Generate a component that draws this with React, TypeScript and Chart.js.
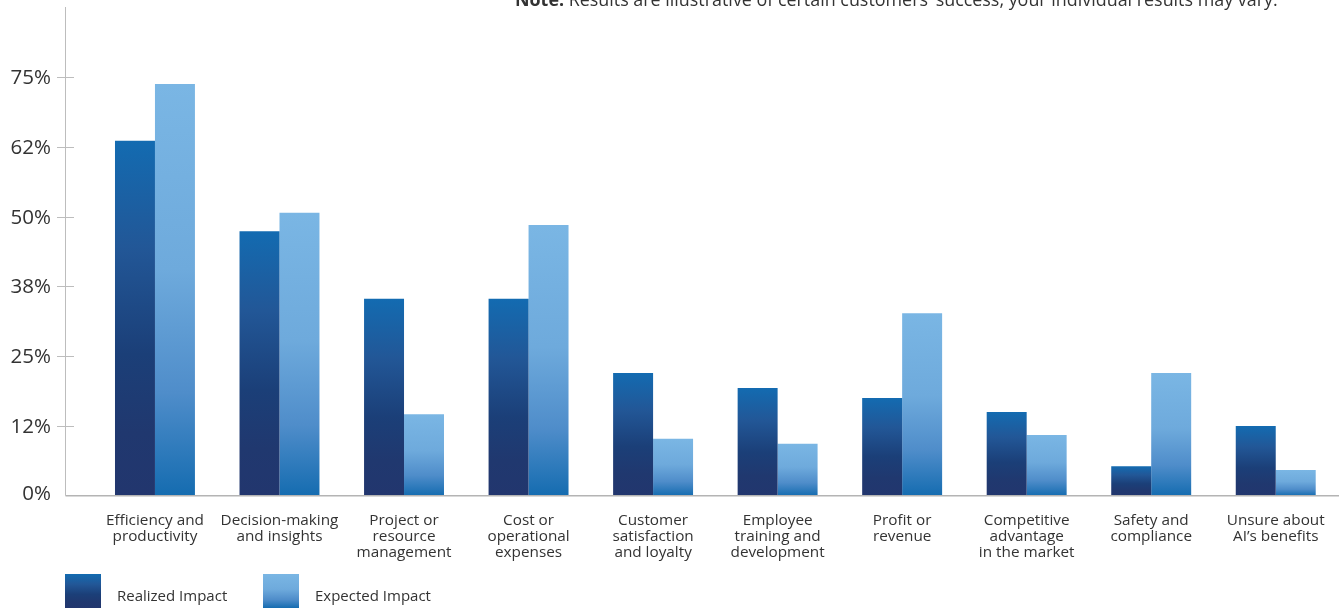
import React, { useEffect, useRef } from "react";
import { Chart, registerables } from "chart.js";

Chart.register(...registerables);

const categories: string[][] = [
  ["Efficiency and", "productivity"],
  ["Decision-making", "and insights"],
  ["Project or", "resource", "management"],
  ["Cost or", "operational", "expenses"],
  ["Customer", "satisfaction", "and loyalty"],
  ["Employee", "training and", "development"],
  ["Profit or", "revenue"],
  ["Competitive", "advantage", "in the market"],
  ["Safety and", "compliance"],
  ["Unsure about", "AI\u2019s benefits"],
];

const realizedImpact = [63.6, 47.4, 35.3, 35.3, 22.0, 19.3, 17.5, 15.0, 5.3, 12.5];
const expectedImpact = [73.8, 50.7, 14.6, 48.5, 10.2, 9.3, 32.7, 10.9, 22.0, 4.6];

const yTickValues = [0, 12.5, 25, 37.5, 50, 62.5, 75];
const yTickLabels = ["0%", "12%", "25%", "38%", "50%", "62%", "75%"];

const seriesNames = ["Realized Impact", "Expected Impact"];
const noteBold = "Note:";
const noteText = " Results are illustrative of certain customers\u2019 success, your individual results may vary.";

const FONT = "'Open Sans', Lato, sans-serif";

const realizedStops: [number, string][] = [
  [0, "#136bb1"],
  [0.3, "#225797"],
  [0.6, "#1b3f78"],
  [0.82, "#20386f"],
  [1, "#22366e"],
];
const expectedStops: [number, string][] = [
  [0, "#7ab6e4"],
  [0.45, "#6eaadc"],
  [0.75, "#4f8dca"],
  [1, "#156cb0"],
];

function makeGradient(ctx: CanvasRenderingContext2D, top: number, bottom: number, stops: [number, string][]) {
  const g = ctx.createLinearGradient(0, top, 0, bottom);
  stops.forEach(([o, c]) => g.addColorStop(o, c));
  return g;
}

function barBg(stops: [number, string][]) {
  return (c: any) => {
    const chart = c.chart;
    const y = chart.scales && chart.scales.y;
    if (!y || !chart.chartArea || c.raw == null) return stops[0][1];
    const top = y.getPixelForValue(c.raw);
    const bottom = y.getPixelForValue(0);
    if (!isFinite(top) || !isFinite(bottom) || bottom - top < 1) return stops[0][1];
    return makeGradient(chart.ctx, top, bottom, stops);
  };
}

const decorPlugin = {
  id: "decor",
  afterDatasetsDraw(chart: any) {
    const ctx: CanvasRenderingContext2D = chart.ctx;
    const y = chart.scales.y;
    const x0 = 65.5;
    const base = y.getPixelForValue(0);
    ctx.save();
    ctx.strokeStyle = "#b4b4b4";
    ctx.lineWidth = 1.5;
    ctx.beginPath();
    ctx.moveTo(x0, base);
    ctx.lineTo(1339, base);
    ctx.stroke();
    ctx.restore();
  },
  afterDraw(chart: any) {
    const ctx: CanvasRenderingContext2D = chart.ctx;
    const y = chart.scales.y;
    const x0 = 65.5;
    const base = y.getPixelForValue(0);
    ctx.save();
    ctx.strokeStyle = "#bdbdbd";
    ctx.lineWidth = 1;
    ctx.beginPath();
    ctx.moveTo(x0, 7);
    ctx.lineTo(x0, base);
    ctx.stroke();
    ctx.font = `20.5px ${FONT}`;
    ctx.fillStyle = "#333333";
    ctx.textAlign = "right";
    ctx.textBaseline = "middle";
    yTickValues.forEach((v, i) => {
      const py = Math.round(y.getPixelForValue(v)) + 0.5;
      if (i > 0) {
        ctx.beginPath();
        ctx.moveTo(57, py);
        ctx.lineTo(74, py);
        ctx.stroke();
      }
      ctx.fillText(yTickLabels[i], 51, py + (i === 0 ? -2 : 1));
    });

    ctx.textAlign = "left";
    ctx.textBaseline = "alphabetic";
    ctx.fillStyle = "#333333";
    ctx.font = `bold 17.9px ${FONT}`;
    const bx = 515;
    ctx.fillText(noteBold, bx, 6);
    const w = ctx.measureText(noteBold).width;
    ctx.font = `17.9px ${FONT}`;
    ctx.fillText(noteText, bx + w, 6);

    const legendBoxes = [
      { x: 65, stops: realizedStops },
      { x: 263, stops: expectedStops },
    ];
    legendBoxes.forEach((b, i) => {
      ctx.fillStyle = makeGradient(ctx, 574, 608, b.stops);
      ctx.fillRect(b.x, 574, 36, 36);
      ctx.fillStyle = "#333333";
      ctx.font = `15px ${FONT}`;
      ctx.textBaseline = "middle";
      ctx.fillText(seriesNames[i], b.x + 52, 597);
    });
    ctx.restore();
  },
};

export default function App() {
  const ref = useRef<HTMLCanvasElement | null>(null);
  useEffect(() => {
    if (!ref.current) return;
    const chart = new Chart(ref.current, {
      type: "bar",
      data: {
        labels: categories as any,
        datasets: [
          {
            label: seriesNames[0],
            data: realizedImpact,
            backgroundColor: barBg(realizedStops) as any,
            borderWidth: 0,
          },
          {
            label: seriesNames[1],
            data: expectedImpact,
            backgroundColor: barBg(expectedStops) as any,
            borderWidth: 0,
          },
        ],
      },
      options: {
        animation: false,
        responsive: false,
        maintainAspectRatio: false,
        layout: { padding: { left: 92.7, right: 4, top: 7.5, bottom: 0 } },
        datasets: { bar: { categoryPercentage: 0.642, barPercentage: 1 } },
        plugins: { legend: { display: false }, tooltip: { enabled: false } },
        scales: {
          y: { display: false, min: 0, max: 87.5 },
          x: {
            grid: { display: false, drawTicks: false },
            border: { display: false },
            ticks: {
              color: "#333333",
              font: { family: FONT, size: 15.3, lineHeight: 1.05 },
              padding: 17,
              maxRotation: 0,
              autoSkip: false,
            },
            afterFit: (s: any) => {
              s.height = 608 - 495.7;
            },
          },
        },
      },
      plugins: [decorPlugin],
    });
    return () => chart.destroy();
  }, []);
  return (
    <div style={{ position: "fixed", left: 0, top: 0, width: 1342, height: 608, background: "#fff" }}>
      <canvas ref={ref} width={1342} height={608} style={{ display: "block", width: 1342, height: 608 }} />
    </div>
  );
}
